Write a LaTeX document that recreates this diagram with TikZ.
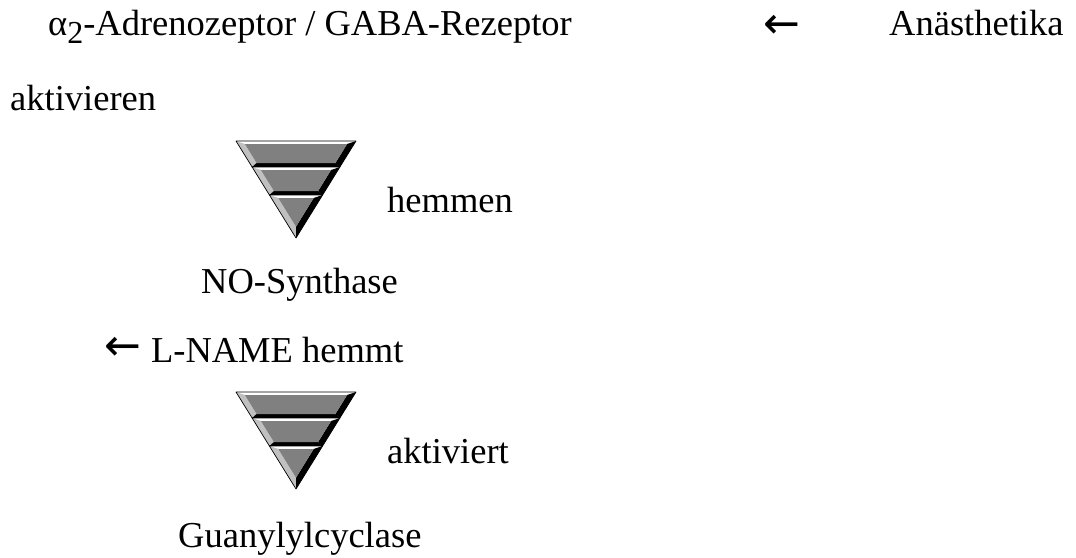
\documentclass[tikz,border=0pt]{standalone}
\usepackage{fontspec}
\setmainfont{Liberation Serif}
\newfontfamily\arrowfont{DejaVu Sans}
\definecolor{facegray}{RGB}{128,128,128}
\definecolor{lightbev}{RGB}{192,192,192}
\newcommand\bevband[8]{%
  \fill[white] #1 -- #2 -- #6 -- #5 -- cycle;
  \fill[lightbev] #1 -- #5 -- #8 -- #4 -- cycle;
  \fill[black] #2 -- #3 -- #7 -- #6 -- cycle;
  \fill[black] #4 -- #8 -- #7 -- #3 -- cycle;
  \fill[facegray] #5 -- #6 -- #7 -- #8 -- cycle;
  \draw[outl] #1 -- #2 -- #3 -- #4 -- cycle;
}
\newcommand\bevtip[6]{%
  \fill[white] #1 -- #2 -- #5 -- #4 -- cycle;
  \fill[lightbev] #1 -- #4 -- #6 -- #3 -- cycle;
  \fill[black] #2 -- #3 -- #6 -- #5 -- cycle;
  \fill[facegray] #4 -- #5 -- #6 -- cycle;
  \draw[outl] #1 -- #2 -- #3 -- cycle;
}
\newcommand\bigarrow{{\arrowfont\fontsize{44}{44}\selectfont ←}}
\tikzset{
  lbl/.style={anchor=base west, inner sep=0pt, font=\fontsize{36.5}{40}\selectfont},
  outl/.style={draw=black, line width=0.7pt, line join=round},
  bevtri/.pic={
    \bevband{(-60,0)}{(60,0)}{(43.9,26)}{(-43.9,26)}{(-51.1,3)}{(51.1,3)}{(39.4,22)}{(-39.4,22)}
    \bevband{(-43.9,26)}{(43.9,26)}{(26.6,54)}{(-26.6,54)}{(-35.1,29)}{(35.1,29)}{(22.1,50)}{(-22.1,50)}
    \bevtip{(-26.6,54)}{(26.6,54)}{(0,97)}{(-17.7,57)}{(17.7,57)}{(0,85.7)}
  }
}
\begin{document}
\begin{tikzpicture}[x=1pt,y=-1pt]
  \useasboundingbox[fill=white] (0,0) rectangle (1076,557);
  \node[lbl] (rez) at (48,35) {α\raisebox{-8pt}{\fontsize{32}{32}\selectfont 2}-Adrenozeptor / GABA-Rezeptor};
  \node[lbl] (arr1) at (763,38) {\bigarrow};
  \node[lbl] (anae) at (889,35) {Anästhetika};
  \node[lbl] (akt1) at (10,110) {aktivieren};
  \pic (tri1) at (296,141) {bevtri};
  \node[lbl] (hem) at (387,212) {hemmen};
  \node[lbl] (nos) at (201,293) {NO-Synthase};
  \node[lbl] (lname) at (104,362) {\raisebox{2pt}{\bigarrow}\hspace{10pt}L-NAME hemmt};
  \pic (tri2) at (296,392) {bevtri};
  \node[lbl] (akt2) at (387,463) {aktiviert};
  \node[lbl] (guc) at (178,547) {Guanylylcyclase};
\end{tikzpicture}
\end{document}
